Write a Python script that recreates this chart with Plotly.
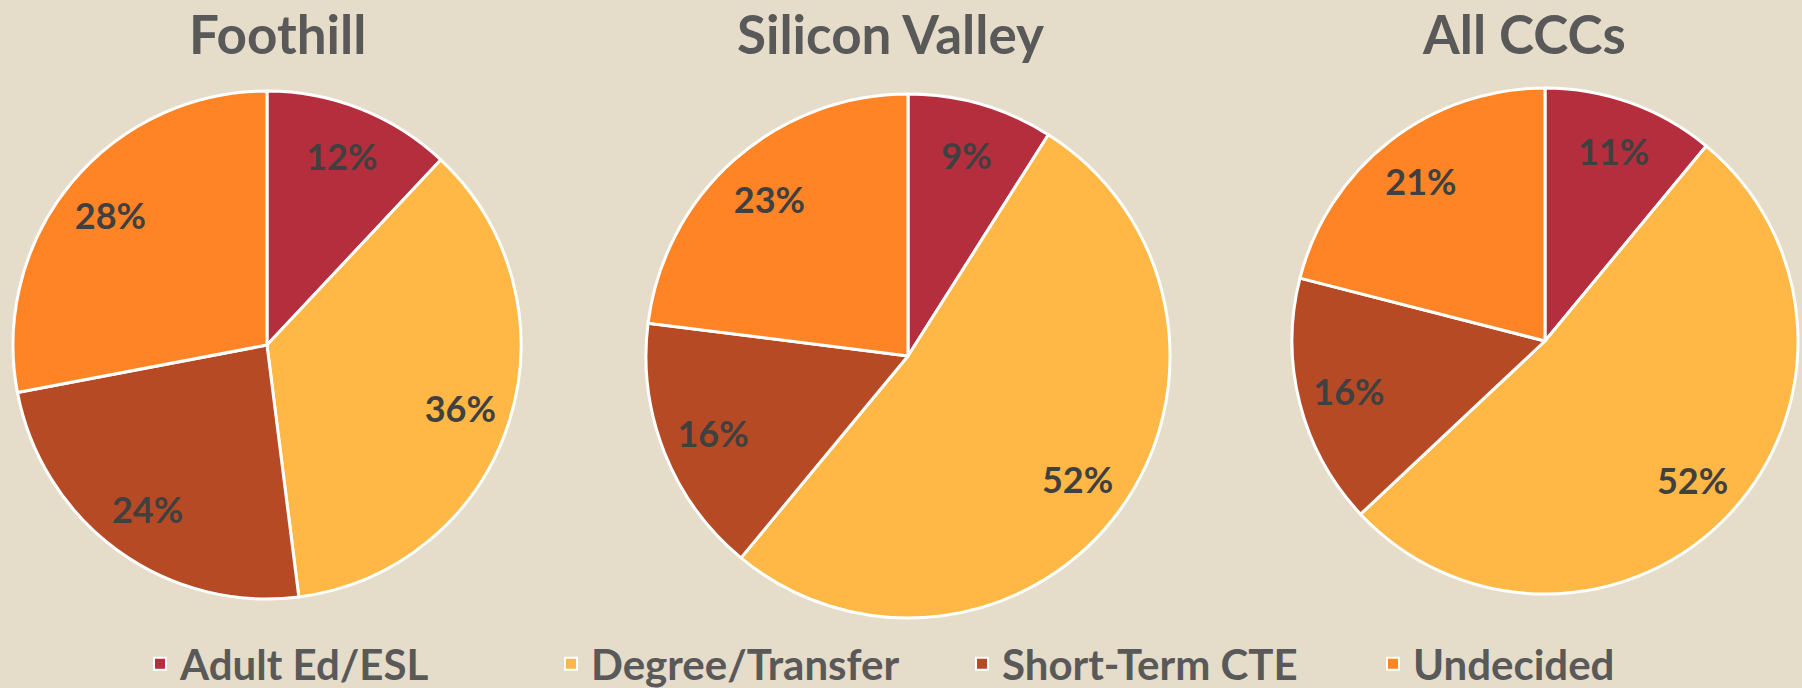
import plotly.graph_objects as go

categories = ["Adult Ed/ESL", "Degree/Transfer", "Short-Term CTE", "Undecided"]
colors = ["#B52E3E", "#FFB845", "#B54A25", "#FF8426"]
titles = ["Foothill", "Silicon Valley", "All CCCs"]
foothill = [12, 36, 24, 28]
silicon_valley = [9, 52, 16, 23]
all_cccs = [11, 52, 16, 21]

W, H = 1802, 688
# (center x, center y from top, radius) in px
geom = [(267, 345, 254), (908, 356, 262), (1545, 341, 253)]
title_x = [277, 890, 1524]


def dom(cx, cy, r):
    yb = H - cy
    return dict(x=[(cx - r) / W, (cx + r) / W], y=[(yb - r) / H, (yb + r) / H])


fig = go.Figure()
for i, (vals, (cx, cy, r)) in enumerate(zip([foothill, silicon_valley, all_cccs], geom)):
    fig.add_trace(go.Pie(
        labels=categories, values=vals, sort=False, direction="clockwise", rotation=0,
        marker=dict(colors=colors, line=dict(color="white", width=3)),
        textinfo="none", domain=dom(cx, cy, r),
        showlegend=(i == 0), hoverinfo="label+percent",
    ))
    # transparent donut on top: its ring centre places the percentage labels at ~0.8 r
    fig.add_trace(go.Pie(
        labels=categories, values=vals, sort=False, direction="clockwise", rotation=0,
        hole=0.6,
        marker=dict(colors=["rgba(0,0,0,0)"] * 4, line=dict(width=0)),
        texttemplate="%{value}%", textposition="inside", insidetextorientation="horizontal",
        textfont=dict(family="Lato", size=36, color="#404040", weight="bold"),
        domain=dom(cx, cy, r),
        showlegend=False, hoverinfo="skip",
    ))

for t, x in zip(titles, title_x):
    fig.add_annotation(text="<b>" + t + "</b>", x=x / W, y=1 - 34 / H, xref="paper", yref="paper",
                       showarrow=False, xanchor="center", yanchor="middle",
                       font=dict(family="Lato", size=53, color="#595959"))

fig.update_layout(
    width=W, height=H, margin=dict(l=0, r=0, t=0, b=0, autoexpand=False),
    paper_bgcolor="#E6DCCA", plot_bgcolor="#E6DCCA",
    legend=dict(orientation="h", x=140 / W, y=(H - 664) / H, xanchor="left", yanchor="middle",
                font=dict(family="Lato", size=42, color="#595959", weight="bold"),
                entrywidth=366, entrywidthmode="pixels", bgcolor="rgba(0,0,0,0)",
                itemsizing="constant"),
)
fig.write_html("out.html", config={"displayModeBar": False},
               post_script="document.body.style.margin='0';document.body.style.padding='0';")
